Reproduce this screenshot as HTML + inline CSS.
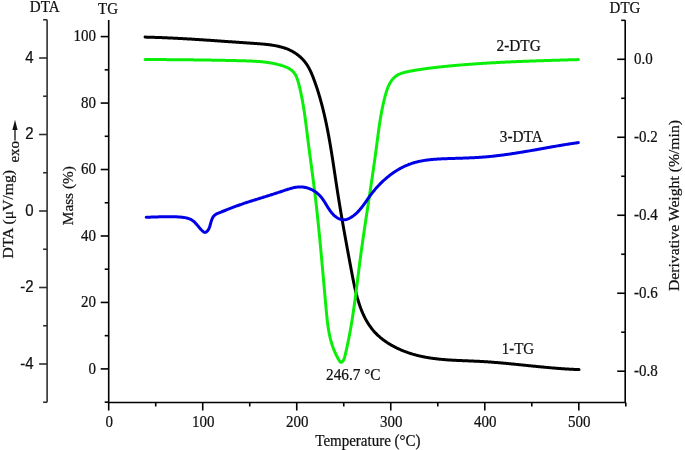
<!DOCTYPE html>
<html><head><meta charset="utf-8"><style>
html,body{margin:0;padding:0;background:#fff;}
body{width:685px;height:450px;overflow:hidden;font-family:"Liberation Serif",serif;}
svg{display:block;}
text{filter:grayscale(1);}
</style></head><body>
<svg width="685" height="450" viewBox="0 0 685 450">
<rect width="685" height="450" fill="#fff"/>
<g stroke="#000" stroke-width="1.60" fill="none" stroke-linecap="butt">
<path stroke="#2e2e2e" stroke-linecap="square" d="M47.10,20.55 V401.45"/>
<path d="M108.70,19.98 V402.50"/>
<path d="M625.20,20.31 V402.50"/>
<path d="M108.70,402.50 H625.81"/>
<path stroke="#2e2e2e" d="M43.10,402.25 H47.10"/>
<path stroke="#2e2e2e" d="M39.10,364.00 H47.10"/>
<path stroke="#2e2e2e" d="M43.10,325.75 H47.10"/>
<path stroke="#2e2e2e" d="M39.10,287.50 H47.10"/>
<path stroke="#2e2e2e" d="M43.10,249.25 H47.10"/>
<path stroke="#2e2e2e" d="M39.10,211.00 H47.10"/>
<path stroke="#2e2e2e" d="M43.10,172.75 H47.10"/>
<path stroke="#2e2e2e" d="M39.10,134.50 H47.10"/>
<path stroke="#2e2e2e" d="M43.10,96.25 H47.10"/>
<path stroke="#2e2e2e" d="M39.10,58.00 H47.10"/>
<path stroke="#2e2e2e" d="M43.10,19.75 H47.10"/>
<path d="M104.70,402.13 H108.70"/>
<path d="M100.70,368.90 H108.70"/>
<path d="M104.70,335.67 H108.70"/>
<path d="M100.70,302.44 H108.70"/>
<path d="M104.70,269.21 H108.70"/>
<path d="M100.70,235.98 H108.70"/>
<path d="M104.70,202.75 H108.70"/>
<path d="M100.70,169.52 H108.70"/>
<path d="M104.70,136.29 H108.70"/>
<path d="M100.70,103.06 H108.70"/>
<path d="M104.70,69.83 H108.70"/>
<path d="M100.70,36.60 H108.70"/>
<path d="M621.20,20.31 H625.20"/>
<path d="M617.20,59.30 H625.20"/>
<path d="M621.20,98.29 H625.20"/>
<path d="M617.20,137.28 H625.20"/>
<path d="M621.20,176.27 H625.20"/>
<path d="M617.20,215.26 H625.20"/>
<path d="M621.20,254.25 H625.20"/>
<path d="M617.20,293.24 H625.20"/>
<path d="M621.20,332.23 H625.20"/>
<path d="M617.20,371.22 H625.20"/>
<path d="M108.70,402.50 V410.50"/>
<path d="M155.71,402.50 V406.50"/>
<path d="M202.72,402.50 V410.50"/>
<path d="M249.73,402.50 V406.50"/>
<path d="M296.74,402.50 V410.50"/>
<path d="M343.75,402.50 V406.50"/>
<path d="M390.76,402.50 V410.50"/>
<path d="M437.77,402.50 V406.50"/>
<path d="M484.78,402.50 V410.50"/>
<path d="M531.79,402.50 V406.50"/>
<path d="M578.80,402.50 V410.50"/>
<path d="M625.81,402.50 V406.50"/>
</g>
<g fill="none" stroke-width="3" stroke-linecap="round" stroke-linejoin="round">
<path stroke="#000" d="M145.10,37.10 L145.82,37.12 L146.55,37.14 L147.28,37.15 L148.00,37.17 L148.73,37.19 L149.45,37.21 L150.17,37.23 L150.89,37.25 L151.61,37.27 L152.33,37.30 L153.05,37.32 L153.76,37.34 L154.48,37.36 L155.19,37.39 L155.91,37.41 L156.62,37.43 L157.33,37.46 L158.04,37.48 L158.75,37.51 L159.46,37.54 L160.17,37.56 L160.87,37.59 L161.58,37.62 L162.28,37.64 L162.99,37.67 L163.69,37.70 L164.40,37.73 L165.10,37.76 L165.80,37.79 L166.50,37.82 L167.20,37.85 L167.90,37.88 L168.60,37.91 L169.29,37.94 L169.99,37.97 L170.69,38.01 L171.38,38.04 L172.08,38.07 L172.77,38.10 L173.47,38.14 L174.16,38.17 L174.85,38.21 L175.54,38.24 L176.24,38.28 L176.93,38.31 L177.62,38.35 L178.31,38.38 L179.00,38.42 L179.69,38.46 L180.38,38.49 L181.06,38.53 L181.75,38.57 L182.44,38.60 L183.13,38.64 L183.81,38.68 L184.50,38.72 L185.19,38.76 L185.87,38.80 L186.56,38.84 L187.24,38.88 L187.93,38.92 L188.61,38.96 L189.30,39.00 L189.98,39.04 L190.66,39.08 L191.35,39.12 L192.03,39.16 L192.72,39.21 L193.40,39.25 L194.08,39.29 L194.76,39.33 L195.45,39.38 L196.13,39.42 L196.81,39.46 L197.50,39.51 L198.18,39.55 L198.86,39.59 L199.54,39.64 L200.23,39.68 L200.91,39.73 L201.59,39.77 L202.27,39.82 L202.96,39.86 L203.64,39.91 L204.32,39.95 L205.00,40.00 L205.69,40.04 L206.37,40.09 L207.05,40.13 L207.74,40.18 L208.42,40.23 L209.11,40.27 L209.79,40.32 L210.47,40.37 L211.16,40.41 L211.84,40.46 L212.53,40.51 L213.21,40.56 L213.90,40.60 L214.59,40.65 L215.27,40.70 L215.96,40.75 L216.65,40.80 L217.33,40.84 L218.02,40.89 L218.71,40.94 L219.40,40.99 L220.09,41.04 L220.78,41.09 L221.47,41.13 L222.16,41.18 L222.85,41.23 L223.54,41.28 L224.23,41.33 L224.92,41.38 L225.62,41.43 L226.31,41.48 L227.01,41.53 L227.70,41.58 L228.40,41.63 L229.09,41.67 L229.79,41.72 L230.49,41.77 L231.18,41.82 L231.88,41.87 L232.58,41.92 L233.28,41.97 L233.98,42.02 L234.69,42.07 L235.39,42.12 L236.09,42.17 L236.80,42.22 L237.50,42.27 L238.21,42.32 L238.91,42.37 L239.62,42.42 L240.33,42.47 L241.04,42.52 L241.75,42.57 L242.46,42.62 L243.17,42.67 L243.89,42.72 L244.60,42.76 L245.32,42.81 L246.03,42.86 L246.75,42.91 L247.47,42.96 L248.19,43.01 L248.91,43.06 L249.63,43.11 L250.35,43.16 L251.07,43.21 L251.80,43.26 L252.52,43.30 L253.25,43.35 L253.98,43.40 L254.71,43.45 L255.44,43.50 L256.17,43.55 L256.90,43.60 L257.63,43.65 L258.36,43.71 L259.09,43.76 L259.82,43.82 L260.55,43.88 L261.29,43.94 L262.02,44.00 L262.75,44.06 L263.48,44.13 L264.21,44.20 L264.93,44.27 L265.66,44.34 L266.39,44.42 L267.11,44.50 L267.84,44.58 L268.56,44.67 L269.28,44.76 L270.00,44.85 L270.71,44.95 L271.43,45.05 L272.14,45.16 L272.85,45.27 L273.56,45.39 L274.27,45.51 L274.97,45.63 L275.67,45.77 L276.37,45.90 L277.07,46.04 L277.76,46.19 L278.45,46.34 L279.14,46.50 L279.82,46.67 L280.50,46.84 L281.18,47.02 L281.85,47.20 L282.52,47.39 L283.18,47.59 L283.84,47.80 L284.50,48.01 L285.15,48.23 L285.80,48.46 L286.44,48.70 L287.08,48.94 L287.71,49.19 L288.34,49.45 L288.96,49.72 L289.58,50.00 L290.20,50.28 L290.80,50.58 L291.41,50.88 L292.00,51.20 L292.59,51.52 L293.18,51.85 L293.76,52.19 L294.33,52.54 L294.90,52.89 L295.46,53.26 L296.01,53.63 L296.56,54.02 L297.10,54.41 L297.64,54.81 L298.17,55.22 L298.69,55.63 L299.20,56.06 L299.71,56.49 L300.21,56.93 L300.70,57.38 L301.19,57.84 L301.67,58.30 L302.14,58.78 L302.60,59.26 L303.06,59.75 L303.51,60.24 L303.95,60.75 L304.38,61.26 L304.80,61.78 L305.22,62.30 L305.62,62.84 L306.02,63.38 L306.41,63.93 L306.80,64.49 L307.17,65.05 L307.53,65.62 L307.89,66.20 L308.24,66.79 L308.57,67.38 L308.91,67.97 L309.23,68.58 L309.55,69.18 L309.86,69.80 L310.16,70.42 L310.46,71.04 L310.76,71.67 L311.04,72.30 L311.32,72.93 L311.60,73.57 L311.87,74.22 L312.14,74.86 L312.40,75.51 L312.66,76.16 L312.92,76.81 L313.17,77.47 L313.42,78.12 L313.67,78.78 L313.91,79.44 L314.16,80.10 L314.40,80.76 L314.64,81.42 L314.87,82.08 L315.11,82.74 L315.34,83.40 L315.57,84.07 L315.80,84.73 L316.03,85.39 L316.25,86.06 L316.48,86.72 L316.70,87.39 L316.92,88.06 L317.14,88.72 L317.36,89.39 L317.57,90.06 L317.78,90.73 L317.99,91.40 L318.20,92.07 L318.41,92.74 L318.62,93.41 L318.82,94.08 L319.02,94.75 L319.23,95.43 L319.43,96.10 L319.62,96.77 L319.82,97.45 L320.01,98.12 L320.21,98.80 L320.40,99.47 L320.59,100.15 L320.78,100.82 L320.96,101.50 L321.15,102.18 L321.33,102.86 L321.51,103.53 L321.70,104.21 L321.87,104.89 L322.05,105.57 L322.23,106.25 L322.40,106.93 L322.58,107.61 L322.75,108.29 L322.92,108.98 L323.09,109.66 L323.26,110.34 L323.43,111.02 L323.59,111.71 L323.75,112.39 L323.92,113.07 L324.08,113.76 L324.24,114.44 L324.40,115.13 L324.56,115.81 L324.71,116.50 L324.87,117.18 L325.02,117.87 L325.18,118.56 L325.33,119.24 L325.48,119.93 L325.63,120.62 L325.78,121.30 L325.92,121.99 L326.07,122.68 L326.22,123.37 L326.36,124.06 L326.50,124.75 L326.64,125.44 L326.79,126.13 L326.93,126.82 L327.06,127.51 L327.20,128.20 L327.34,128.89 L327.48,129.58 L327.61,130.27 L327.74,130.96 L327.88,131.65 L328.01,132.34 L328.14,133.03 L328.27,133.73 L328.40,134.42 L328.53,135.11 L328.66,135.80 L328.79,136.49 L328.91,137.19 L329.04,137.88 L329.16,138.57 L329.29,139.27 L329.41,139.96 L329.53,140.65 L329.65,141.35 L329.78,142.04 L329.90,142.73 L330.02,143.43 L330.13,144.12 L330.25,144.82 L330.37,145.51 L330.49,146.20 L330.61,146.90 L330.72,147.59 L330.84,148.29 L330.95,148.98 L331.07,149.68 L331.18,150.37 L331.29,151.07 L331.41,151.76 L331.52,152.46 L331.63,153.15 L331.74,153.85 L331.85,154.54 L331.96,155.23 L332.07,155.93 L332.18,156.62 L332.29,157.32 L332.40,158.01 L332.51,158.71 L332.62,159.40 L332.72,160.10 L332.83,160.79 L332.94,161.49 L333.05,162.18 L333.15,162.88 L333.26,163.57 L333.36,164.26 L333.47,164.96 L333.58,165.65 L333.68,166.35 L333.79,167.04 L333.89,167.73 L334.00,168.43 L334.10,169.12 L334.20,169.82 L334.31,170.51 L334.41,171.20 L334.52,171.89 L334.62,172.59 L334.72,173.28 L334.83,173.97 L334.93,174.67 L335.04,175.36 L335.14,176.05 L335.24,176.74 L335.35,177.43 L335.45,178.13 L335.55,178.82 L335.66,179.51 L335.76,180.20 L335.87,180.89 L335.97,181.58 L336.07,182.27 L336.18,182.96 L336.28,183.65 L336.39,184.34 L336.49,185.03 L336.60,185.72 L336.70,186.41 L336.81,187.10 L336.91,187.78 L337.02,188.47 L337.13,189.16 L337.23,189.85 L337.34,190.53 L337.44,191.22 L337.55,191.91 L337.66,192.59 L337.77,193.28 L337.87,193.97 L337.98,194.65 L338.09,195.34 L338.20,196.02 L338.31,196.71 L338.42,197.39 L338.53,198.08 L338.64,198.76 L338.75,199.44 L338.86,200.13 L338.97,200.81 L339.08,201.49 L339.19,202.18 L339.30,202.86 L339.41,203.54 L339.53,204.23 L339.64,204.91 L339.75,205.59 L339.86,206.27 L339.98,206.96 L340.09,207.64 L340.20,208.32 L340.32,209.00 L340.43,209.68 L340.55,210.37 L340.66,211.05 L340.77,211.73 L340.89,212.41 L341.01,213.09 L341.12,213.77 L341.24,214.45 L341.35,215.14 L341.47,215.82 L341.59,216.50 L341.70,217.18 L341.82,217.86 L341.94,218.54 L342.05,219.22 L342.17,219.90 L342.29,220.59 L342.41,221.27 L342.53,221.95 L342.64,222.63 L342.76,223.31 L342.88,223.99 L343.00,224.68 L343.12,225.36 L343.24,226.04 L343.36,226.72 L343.48,227.40 L343.60,228.09 L343.72,228.77 L343.84,229.45 L343.96,230.13 L344.09,230.82 L344.21,231.50 L344.33,232.18 L344.45,232.87 L344.57,233.55 L344.69,234.23 L344.82,234.92 L344.94,235.60 L345.06,236.29 L345.19,236.97 L345.31,237.66 L345.43,238.34 L345.56,239.03 L345.68,239.71 L345.81,240.40 L345.93,241.08 L346.05,241.77 L346.18,242.46 L346.30,243.14 L346.43,243.83 L346.56,244.52 L346.68,245.20 L346.81,245.89 L346.93,246.58 L347.06,247.27 L347.19,247.96 L347.31,248.65 L347.44,249.34 L347.57,250.03 L347.69,250.72 L347.82,251.41 L347.95,252.10 L348.08,252.79 L348.20,253.48 L348.33,254.18 L348.46,254.87 L348.59,255.56 L348.72,256.26 L348.85,256.95 L348.98,257.65 L349.10,258.34 L349.23,259.04 L349.36,259.73 L349.49,260.43 L349.62,261.13 L349.75,261.82 L349.88,262.52 L350.01,263.22 L350.14,263.92 L350.27,264.62 L350.41,265.32 L350.54,266.02 L350.67,266.72 L350.80,267.42 L350.93,268.12 L351.06,268.83 L351.19,269.53 L351.33,270.23 L351.46,270.94 L351.59,271.64 L351.72,272.35 L351.86,273.05 L351.99,273.76 L352.12,274.47 L352.26,275.17 L352.40,275.88 L352.53,276.59 L352.67,277.29 L352.81,278.00 L352.94,278.71 L353.08,279.42 L353.23,280.12 L353.37,280.83 L353.51,281.54 L353.65,282.24 L353.80,282.95 L353.95,283.65 L354.10,284.36 L354.25,285.06 L354.40,285.76 L354.55,286.47 L354.71,287.17 L354.86,287.87 L355.02,288.57 L355.18,289.27 L355.34,289.97 L355.51,290.66 L355.68,291.36 L355.85,292.06 L356.02,292.75 L356.19,293.44 L356.37,294.14 L356.54,294.83 L356.73,295.51 L356.91,296.20 L357.10,296.89 L357.28,297.57 L357.48,298.25 L357.67,298.94 L357.87,299.61 L358.07,300.29 L358.27,300.97 L358.48,301.64 L358.69,302.31 L358.90,302.98 L359.12,303.65 L359.34,304.32 L359.56,304.98 L359.79,305.64 L360.02,306.30 L360.26,306.96 L360.49,307.61 L360.74,308.26 L360.98,308.91 L361.23,309.56 L361.48,310.20 L361.74,310.84 L362.00,311.48 L362.27,312.12 L362.54,312.75 L362.82,313.38 L363.09,314.00 L363.38,314.63 L363.67,315.25 L363.96,315.87 L364.26,316.48 L364.56,317.09 L364.86,317.70 L365.18,318.30 L365.49,318.91 L365.82,319.50 L366.14,320.10 L366.47,320.69 L366.81,321.27 L367.15,321.86 L367.50,322.44 L367.85,323.01 L368.21,323.58 L368.58,324.15 L368.95,324.72 L369.32,325.27 L369.70,325.83 L370.09,326.38 L370.48,326.93 L370.88,327.47 L371.29,328.01 L371.70,328.55 L372.12,329.08 L372.54,329.60 L372.97,330.12 L373.40,330.64 L373.85,331.15 L374.30,331.66 L374.75,332.16 L375.21,332.66 L375.68,333.15 L376.16,333.64 L376.64,334.12 L377.13,334.60 L377.62,335.07 L378.12,335.54 L378.63,336.00 L379.14,336.46 L379.66,336.91 L380.18,337.36 L380.71,337.81 L381.24,338.24 L381.78,338.68 L382.33,339.11 L382.88,339.53 L383.44,339.95 L384.00,340.37 L384.56,340.78 L385.13,341.18 L385.71,341.58 L386.29,341.98 L386.87,342.37 L387.46,342.76 L388.05,343.14 L388.65,343.52 L389.25,343.89 L389.86,344.26 L390.46,344.62 L391.08,344.98 L391.69,345.33 L392.31,345.68 L392.93,346.02 L393.56,346.36 L394.19,346.69 L394.82,347.02 L395.46,347.35 L396.10,347.67 L396.74,347.98 L397.38,348.29 L398.03,348.60 L398.68,348.90 L399.33,349.19 L399.98,349.49 L400.64,349.77 L401.29,350.05 L401.95,350.33 L402.61,350.60 L403.28,350.87 L403.94,351.14 L404.61,351.39 L405.28,351.65 L405.94,351.90 L406.61,352.14 L407.29,352.38 L407.96,352.62 L408.63,352.85 L409.30,353.07 L409.98,353.30 L410.65,353.51 L411.33,353.73 L412.01,353.93 L412.68,354.14 L413.36,354.33 L414.04,354.53 L414.72,354.72 L415.40,354.90 L416.08,355.09 L416.76,355.26 L417.44,355.44 L418.12,355.61 L418.80,355.77 L419.48,355.93 L420.16,356.09 L420.85,356.24 L421.53,356.39 L422.21,356.54 L422.90,356.68 L423.58,356.82 L424.27,356.96 L424.95,357.09 L425.64,357.22 L426.32,357.35 L427.01,357.47 L427.70,357.59 L428.39,357.70 L429.07,357.81 L429.76,357.92 L430.45,358.03 L431.14,358.13 L431.83,358.23 L432.52,358.33 L433.21,358.43 L433.90,358.52 L434.59,358.61 L435.28,358.70 L435.97,358.78 L436.67,358.86 L437.36,358.94 L438.05,359.02 L438.74,359.09 L439.44,359.17 L440.13,359.24 L440.82,359.31 L441.52,359.37 L442.21,359.43 L442.91,359.50 L443.60,359.56 L444.30,359.61 L444.99,359.67 L445.69,359.73 L446.38,359.78 L447.08,359.83 L447.78,359.88 L448.47,359.93 L449.17,359.97 L449.87,360.02 L450.56,360.06 L451.26,360.10 L451.96,360.15 L452.66,360.19 L453.35,360.22 L454.05,360.26 L454.75,360.30 L455.45,360.33 L456.15,360.37 L456.84,360.40 L457.54,360.44 L458.24,360.47 L458.94,360.50 L459.64,360.53 L460.34,360.56 L461.04,360.59 L461.74,360.62 L462.44,360.65 L463.14,360.68 L463.84,360.70 L464.54,360.73 L465.23,360.76 L465.93,360.79 L466.63,360.82 L467.33,360.84 L468.03,360.87 L468.73,360.90 L469.43,360.93 L470.13,360.95 L470.83,360.98 L471.53,361.01 L472.23,361.04 L472.93,361.07 L473.63,361.10 L474.33,361.13 L475.03,361.16 L475.73,361.19 L476.43,361.22 L477.13,361.26 L477.83,361.29 L478.53,361.32 L479.23,361.36 L479.93,361.40 L480.63,361.43 L481.33,361.47 L482.03,361.51 L482.73,361.55 L483.43,361.60 L484.13,361.64 L484.82,361.68 L485.52,361.73 L486.22,361.77 L486.92,361.82 L487.62,361.87 L488.32,361.91 L489.02,361.96 L489.71,362.01 L490.41,362.06 L491.11,362.11 L491.81,362.17 L492.51,362.22 L493.21,362.27 L493.90,362.33 L494.60,362.38 L495.30,362.44 L496.00,362.50 L496.69,362.55 L497.39,362.61 L498.09,362.67 L498.79,362.73 L499.49,362.79 L500.18,362.85 L500.88,362.91 L501.58,362.97 L502.28,363.04 L502.97,363.10 L503.67,363.16 L504.37,363.23 L505.06,363.29 L505.76,363.36 L506.46,363.42 L507.16,363.49 L507.85,363.55 L508.55,363.62 L509.25,363.69 L509.94,363.75 L510.64,363.82 L511.34,363.89 L512.04,363.96 L512.73,364.03 L513.43,364.10 L514.13,364.16 L514.82,364.23 L515.52,364.30 L516.22,364.37 L516.91,364.44 L517.61,364.51 L518.31,364.58 L519.00,364.66 L519.70,364.73 L520.40,364.80 L521.09,364.87 L521.79,364.94 L522.49,365.01 L523.18,365.08 L523.88,365.15 L524.58,365.23 L525.27,365.30 L525.97,365.37 L526.67,365.44 L527.36,365.51 L528.06,365.58 L528.76,365.65 L529.45,365.73 L530.15,365.80 L530.85,365.87 L531.54,365.94 L532.24,366.01 L532.94,366.08 L533.63,366.15 L534.33,366.22 L535.03,366.29 L535.72,366.36 L536.42,366.43 L537.12,366.50 L537.81,366.57 L538.51,366.64 L539.21,366.71 L539.90,366.78 L540.60,366.84 L541.30,366.91 L541.99,366.98 L542.69,367.05 L543.39,367.11 L544.09,367.18 L544.78,367.24 L545.48,367.31 L546.18,367.37 L546.87,367.44 L547.57,367.50 L548.27,367.56 L548.97,367.63 L549.66,367.69 L550.36,367.75 L551.06,367.81 L551.75,367.87 L552.45,367.93 L553.15,367.99 L553.85,368.05 L554.54,368.11 L555.24,368.17 L555.94,368.22 L556.64,368.28 L557.34,368.33 L558.03,368.39 L558.73,368.44 L559.43,368.49 L560.13,368.55 L560.83,368.60 L561.52,368.65 L562.22,368.70 L562.92,368.75 L563.62,368.79 L564.32,368.84 L565.02,368.89 L565.71,368.93 L566.41,368.98 L567.11,369.02 L567.81,369.06 L568.51,369.10 L569.21,369.15 L569.91,369.18 L570.61,369.22 L571.30,369.26 L572.00,369.30 L572.70,369.33 L573.40,369.37 L574.10,369.40 L574.80,369.43 L575.50,369.46 L576.20,369.49 L576.90,369.52 L577.60,369.55 L578.30,369.57 L579.00,369.60"/>
<path stroke="#0aee0a" d="M145.10,59.50 L145.80,59.50 L146.49,59.51 L147.19,59.51 L147.89,59.51 L148.58,59.52 L149.28,59.52 L149.98,59.52 L150.67,59.53 L151.37,59.53 L152.07,59.54 L152.77,59.54 L153.46,59.54 L154.16,59.55 L154.86,59.55 L155.56,59.55 L156.26,59.56 L156.96,59.56 L157.66,59.57 L158.35,59.57 L159.05,59.57 L159.75,59.58 L160.45,59.58 L161.15,59.59 L161.85,59.59 L162.55,59.60 L163.25,59.60 L163.95,59.61 L164.65,59.61 L165.35,59.62 L166.05,59.62 L166.75,59.63 L167.45,59.63 L168.15,59.64 L168.86,59.64 L169.56,59.65 L170.26,59.65 L170.96,59.66 L171.66,59.66 L172.36,59.67 L173.06,59.67 L173.76,59.68 L174.47,59.69 L175.17,59.69 L175.87,59.70 L176.57,59.70 L177.27,59.71 L177.97,59.72 L178.68,59.72 L179.38,59.73 L180.08,59.73 L180.78,59.74 L181.48,59.75 L182.19,59.75 L182.89,59.76 L183.59,59.77 L184.29,59.77 L185.00,59.78 L185.70,59.79 L186.40,59.80 L187.10,59.80 L187.81,59.81 L188.51,59.82 L189.21,59.83 L189.91,59.83 L190.62,59.84 L191.32,59.85 L192.02,59.86 L192.72,59.87 L193.43,59.87 L194.13,59.88 L194.83,59.89 L195.54,59.90 L196.24,59.91 L196.94,59.92 L197.64,59.93 L198.35,59.94 L199.05,59.95 L199.75,59.95 L200.45,59.96 L201.16,59.97 L201.86,59.98 L202.56,59.99 L203.26,60.00 L203.97,60.01 L204.67,60.02 L205.37,60.03 L206.07,60.04 L206.77,60.05 L207.48,60.06 L208.18,60.08 L208.88,60.09 L209.58,60.10 L210.28,60.11 L210.99,60.12 L211.69,60.13 L212.39,60.14 L213.09,60.15 L213.79,60.17 L214.49,60.18 L215.20,60.19 L215.90,60.20 L216.60,60.21 L217.30,60.23 L218.00,60.24 L218.70,60.25 L219.40,60.27 L220.10,60.28 L220.80,60.29 L221.50,60.31 L222.20,60.32 L222.91,60.33 L223.61,60.35 L224.31,60.36 L225.01,60.37 L225.71,60.39 L226.40,60.40 L227.10,60.42 L227.80,60.43 L228.50,60.45 L229.20,60.46 L229.90,60.48 L230.60,60.49 L231.30,60.51 L232.00,60.52 L232.70,60.54 L233.39,60.55 L234.09,60.57 L234.79,60.59 L235.49,60.60 L236.19,60.62 L236.88,60.64 L237.58,60.65 L238.28,60.67 L238.97,60.69 L239.67,60.71 L240.37,60.72 L241.06,60.74 L241.76,60.76 L242.46,60.78 L243.15,60.79 L243.85,60.81 L244.54,60.83 L245.24,60.85 L245.93,60.87 L246.63,60.89 L247.32,60.92 L248.02,60.94 L248.71,60.96 L249.41,60.99 L250.10,61.01 L250.79,61.04 L251.49,61.07 L252.18,61.10 L252.88,61.14 L253.57,61.17 L254.26,61.21 L254.96,61.25 L255.65,61.29 L256.35,61.33 L257.04,61.38 L257.73,61.43 L258.43,61.48 L259.12,61.53 L259.82,61.59 L260.51,61.65 L261.20,61.72 L261.90,61.78 L262.59,61.85 L263.29,61.93 L263.98,62.00 L264.67,62.08 L265.37,62.17 L266.06,62.26 L266.76,62.35 L267.45,62.45 L268.15,62.55 L268.84,62.65 L269.54,62.76 L270.23,62.88 L270.93,63.00 L271.62,63.12 L272.32,63.25 L273.01,63.39 L273.71,63.52 L274.41,63.67 L275.10,63.82 L275.80,63.98 L276.50,64.14 L277.19,64.30 L277.89,64.48 L278.59,64.66 L279.29,64.84 L279.99,65.03 L280.68,65.23 L281.38,65.43 L282.08,65.65 L282.77,65.87 L283.46,66.09 L284.14,66.33 L284.82,66.58 L285.49,66.84 L286.15,67.12 L286.80,67.40 L287.44,67.70 L288.07,68.01 L288.69,68.33 L289.29,68.67 L289.87,69.03 L290.44,69.40 L291.00,69.79 L291.53,70.19 L292.04,70.62 L292.54,71.06 L293.01,71.53 L293.45,72.01 L293.88,72.51 L294.28,73.04 L294.66,73.58 L295.03,74.13 L295.37,74.71 L295.70,75.30 L296.01,75.90 L296.30,76.51 L296.58,77.14 L296.84,77.78 L297.09,78.43 L297.33,79.09 L297.56,79.75 L297.78,80.42 L297.98,81.10 L298.19,81.79 L298.38,82.48 L298.57,83.17 L298.75,83.86 L298.93,84.56 L299.10,85.26 L299.28,85.95 L299.45,86.65 L299.62,87.34 L299.78,88.04 L299.94,88.73 L300.11,89.43 L300.26,90.12 L300.42,90.82 L300.57,91.51 L300.73,92.21 L300.88,92.90 L301.02,93.60 L301.17,94.29 L301.31,94.98 L301.45,95.68 L301.59,96.37 L301.73,97.06 L301.87,97.76 L302.00,98.45 L302.13,99.14 L302.26,99.84 L302.39,100.53 L302.52,101.22 L302.64,101.92 L302.76,102.61 L302.88,103.30 L303.00,103.99 L303.12,104.69 L303.24,105.38 L303.36,106.07 L303.47,106.76 L303.58,107.45 L303.69,108.15 L303.80,108.84 L303.91,109.53 L304.02,110.22 L304.12,110.91 L304.23,111.60 L304.33,112.30 L304.43,112.99 L304.54,113.68 L304.64,114.37 L304.74,115.06 L304.83,115.75 L304.93,116.44 L305.03,117.13 L305.12,117.83 L305.22,118.52 L305.31,119.21 L305.41,119.90 L305.50,120.59 L305.59,121.28 L305.68,121.97 L305.77,122.66 L305.86,123.35 L305.95,124.05 L306.04,124.74 L306.13,125.43 L306.22,126.12 L306.30,126.81 L306.39,127.50 L306.48,128.19 L306.57,128.88 L306.65,129.57 L306.74,130.27 L306.82,130.96 L306.91,131.65 L307.00,132.34 L307.08,133.03 L307.17,133.72 L307.25,134.41 L307.34,135.11 L307.43,135.80 L307.51,136.49 L307.60,137.18 L307.68,137.87 L307.77,138.57 L307.86,139.26 L307.94,139.95 L308.03,140.64 L308.12,141.33 L308.21,142.03 L308.30,142.72 L308.38,143.41 L308.47,144.10 L308.56,144.80 L308.65,145.49 L308.74,146.18 L308.83,146.87 L308.92,147.57 L309.01,148.26 L309.10,148.95 L309.19,149.65 L309.29,150.34 L309.38,151.03 L309.47,151.73 L309.56,152.42 L309.65,153.11 L309.74,153.81 L309.84,154.50 L309.93,155.20 L310.02,155.89 L310.11,156.58 L310.20,157.28 L310.30,157.97 L310.39,158.67 L310.48,159.36 L310.58,160.05 L310.67,160.75 L310.76,161.44 L310.85,162.14 L310.95,162.83 L311.04,163.53 L311.13,164.22 L311.23,164.92 L311.32,165.61 L311.41,166.30 L311.50,167.00 L311.60,167.69 L311.69,168.39 L311.78,169.08 L311.88,169.78 L311.97,170.47 L312.06,171.17 L312.15,171.86 L312.25,172.56 L312.34,173.26 L312.43,173.95 L312.52,174.65 L312.61,175.34 L312.70,176.04 L312.80,176.73 L312.89,177.43 L312.98,178.12 L313.07,178.82 L313.16,179.51 L313.25,180.21 L313.34,180.91 L313.43,181.60 L313.52,182.30 L313.61,182.99 L313.70,183.69 L313.79,184.39 L313.87,185.08 L313.96,185.78 L314.05,186.47 L314.14,187.17 L314.23,187.86 L314.31,188.56 L314.40,189.26 L314.49,189.95 L314.57,190.65 L314.66,191.35 L314.74,192.04 L314.83,192.74 L314.91,193.43 L314.99,194.13 L315.08,194.83 L315.16,195.52 L315.24,196.22 L315.33,196.92 L315.41,197.61 L315.49,198.31 L315.57,199.01 L315.65,199.70 L315.74,200.40 L315.82,201.09 L315.90,201.79 L315.98,202.49 L316.06,203.18 L316.14,203.88 L316.21,204.58 L316.29,205.27 L316.37,205.97 L316.45,206.67 L316.53,207.36 L316.60,208.06 L316.68,208.76 L316.76,209.45 L316.84,210.15 L316.91,210.85 L316.99,211.54 L317.06,212.24 L317.14,212.94 L317.21,213.63 L317.29,214.33 L317.36,215.03 L317.44,215.73 L317.51,216.42 L317.59,217.12 L317.66,217.82 L317.73,218.51 L317.81,219.21 L317.88,219.91 L317.95,220.60 L318.02,221.30 L318.10,222.00 L318.17,222.69 L318.24,223.39 L318.31,224.09 L318.38,224.79 L318.45,225.48 L318.52,226.18 L318.60,226.88 L318.67,227.57 L318.74,228.27 L318.81,228.97 L318.88,229.66 L318.94,230.36 L319.01,231.06 L319.08,231.76 L319.15,232.45 L319.22,233.15 L319.29,233.85 L319.36,234.54 L319.43,235.24 L319.49,235.94 L319.56,236.64 L319.63,237.33 L319.70,238.03 L319.76,238.73 L319.83,239.42 L319.90,240.12 L319.96,240.82 L320.03,241.52 L320.10,242.21 L320.16,242.91 L320.23,243.61 L320.29,244.31 L320.36,245.00 L320.43,245.70 L320.49,246.40 L320.56,247.09 L320.62,247.79 L320.69,248.49 L320.75,249.19 L320.82,249.88 L320.88,250.58 L320.95,251.28 L321.01,251.97 L321.07,252.67 L321.14,253.37 L321.20,254.07 L321.27,254.76 L321.33,255.46 L321.39,256.16 L321.46,256.86 L321.52,257.55 L321.59,258.25 L321.65,258.95 L321.71,259.64 L321.77,260.34 L321.84,261.04 L321.90,261.74 L321.96,262.43 L322.03,263.13 L322.09,263.83 L322.15,264.52 L322.21,265.22 L322.28,265.92 L322.34,266.62 L322.40,267.31 L322.46,268.01 L322.53,268.71 L322.59,269.40 L322.65,270.10 L322.71,270.80 L322.78,271.50 L322.84,272.19 L322.90,272.89 L322.96,273.59 L323.02,274.28 L323.09,274.98 L323.15,275.68 L323.21,276.37 L323.27,277.07 L323.33,277.77 L323.40,278.47 L323.46,279.16 L323.52,279.86 L323.58,280.56 L323.64,281.25 L323.70,281.95 L323.77,282.65 L323.83,283.34 L323.89,284.04 L323.95,284.74 L324.01,285.43 L324.08,286.13 L324.14,286.83 L324.20,287.52 L324.26,288.22 L324.32,288.92 L324.39,289.62 L324.45,290.31 L324.51,291.01 L324.57,291.71 L324.63,292.40 L324.70,293.10 L324.76,293.80 L324.82,294.49 L324.88,295.19 L324.95,295.89 L325.01,296.58 L325.07,297.28 L325.13,297.97 L325.20,298.67 L325.26,299.37 L325.32,300.06 L325.38,300.76 L325.45,301.46 L325.51,302.15 L325.57,302.85 L325.64,303.55 L325.70,304.24 L325.76,304.94 L325.83,305.64 L325.89,306.33 L325.95,307.03 L326.02,307.72 L326.08,308.42 L326.15,309.12 L326.21,309.81 L326.27,310.51 L326.34,311.20 L326.40,311.90 L326.47,312.60 L326.54,313.29 L326.60,313.99 L326.67,314.68 L326.74,315.38 L326.81,316.07 L326.88,316.77 L326.95,317.46 L327.02,318.16 L327.10,318.85 L327.17,319.55 L327.25,320.24 L327.33,320.94 L327.41,321.63 L327.49,322.32 L327.58,323.02 L327.67,323.71 L327.76,324.40 L327.85,325.09 L327.95,325.78 L328.04,326.48 L328.14,327.17 L328.25,327.86 L328.36,328.55 L328.47,329.24 L328.58,329.92 L328.70,330.61 L328.82,331.30 L328.94,331.99 L329.07,332.67 L329.20,333.36 L329.34,334.05 L329.48,334.73 L329.62,335.42 L329.77,336.10 L329.93,336.78 L330.08,337.47 L330.25,338.15 L330.41,338.83 L330.59,339.51 L330.76,340.19 L330.95,340.87 L331.13,341.55 L331.33,342.22 L331.53,342.90 L331.73,343.58 L331.94,344.25 L332.16,344.93 L332.38,345.60 L332.61,346.27 L332.84,346.94 L333.08,347.61 L333.33,348.28 L333.58,348.95 L333.84,349.62 L334.11,350.29 L334.39,350.95 L334.67,351.62 L334.96,352.28 L335.25,352.94 L335.55,353.60 L335.86,354.26 L336.17,354.91 L336.49,355.55 L336.81,356.19 L337.13,356.82 L337.47,357.44 L337.80,358.05 L338.14,358.66 L338.48,359.25 L338.82,359.83 L339.17,360.41 L339.52,360.96 L339.88,361.47 L340.25,361.89 L340.65,362.18 L341.09,362.28 L341.56,362.18 L342.04,361.91 L342.51,361.51 L342.95,361.01 L343.35,360.46 L343.68,359.87 L343.97,359.24 L344.21,358.60 L344.42,357.93 L344.61,357.25 L344.79,356.56 L344.96,355.87 L345.13,355.17 L345.29,354.48 L345.46,353.79 L345.62,353.10 L345.79,352.41 L345.95,351.72 L346.11,351.02 L346.27,350.33 L346.43,349.64 L346.58,348.95 L346.74,348.26 L346.89,347.57 L347.04,346.87 L347.19,346.18 L347.34,345.49 L347.49,344.80 L347.64,344.11 L347.78,343.42 L347.93,342.72 L348.07,342.03 L348.21,341.34 L348.35,340.65 L348.49,339.96 L348.63,339.26 L348.77,338.57 L348.91,337.88 L349.04,337.19 L349.17,336.50 L349.31,335.81 L349.44,335.11 L349.57,334.42 L349.70,333.73 L349.83,333.04 L349.96,332.35 L350.08,331.65 L350.21,330.96 L350.33,330.27 L350.46,329.58 L350.58,328.89 L350.70,328.19 L350.82,327.50 L350.94,326.81 L351.06,326.12 L351.18,325.43 L351.29,324.73 L351.41,324.04 L351.53,323.35 L351.64,322.66 L351.75,321.97 L351.87,321.27 L351.98,320.58 L352.09,319.89 L352.20,319.20 L352.31,318.51 L352.42,317.81 L352.53,317.12 L352.63,316.43 L352.74,315.74 L352.85,315.05 L352.95,314.35 L353.05,313.66 L353.16,312.97 L353.26,312.28 L353.36,311.58 L353.47,310.89 L353.57,310.20 L353.67,309.51 L353.77,308.82 L353.87,308.12 L353.97,307.43 L354.07,306.74 L354.16,306.05 L354.26,305.35 L354.36,304.66 L354.45,303.97 L354.55,303.28 L354.64,302.58 L354.74,301.89 L354.83,301.20 L354.93,300.51 L355.02,299.82 L355.11,299.12 L355.21,298.43 L355.30,297.74 L355.39,297.05 L355.48,296.35 L355.57,295.66 L355.67,294.97 L355.76,294.28 L355.85,293.58 L355.94,292.89 L356.03,292.20 L356.12,291.50 L356.20,290.81 L356.29,290.12 L356.38,289.43 L356.47,288.73 L356.56,288.04 L356.65,287.35 L356.74,286.66 L356.82,285.96 L356.91,285.27 L357.00,284.58 L357.09,283.88 L357.17,283.19 L357.26,282.50 L357.35,281.81 L357.43,281.11 L357.52,280.42 L357.61,279.73 L357.69,279.03 L357.78,278.34 L357.87,277.65 L357.96,276.96 L358.04,276.26 L358.13,275.57 L358.22,274.88 L358.30,274.18 L358.39,273.49 L358.48,272.80 L358.56,272.10 L358.65,271.41 L358.74,270.72 L358.83,270.02 L358.92,269.33 L359.00,268.64 L359.09,267.94 L359.18,267.25 L359.27,266.56 L359.36,265.86 L359.45,265.17 L359.54,264.48 L359.62,263.78 L359.71,263.09 L359.80,262.40 L359.89,261.70 L359.99,261.01 L360.08,260.32 L360.17,259.62 L360.26,258.93 L360.35,258.24 L360.44,257.54 L360.54,256.85 L360.63,256.16 L360.72,255.46 L360.82,254.77 L360.91,254.07 L361.00,253.38 L361.10,252.69 L361.19,251.99 L361.29,251.30 L361.38,250.61 L361.48,249.91 L361.57,249.22 L361.67,248.52 L361.77,247.83 L361.86,247.14 L361.96,246.44 L362.06,245.75 L362.16,245.05 L362.25,244.36 L362.35,243.67 L362.45,242.97 L362.55,242.28 L362.65,241.58 L362.75,240.89 L362.84,240.20 L362.94,239.50 L363.04,238.81 L363.14,238.11 L363.24,237.42 L363.34,236.73 L363.44,236.03 L363.54,235.34 L363.64,234.64 L363.75,233.95 L363.85,233.26 L363.95,232.56 L364.05,231.87 L364.15,231.17 L364.25,230.48 L364.35,229.79 L364.46,229.09 L364.56,228.40 L364.66,227.70 L364.76,227.01 L364.87,226.31 L364.97,225.62 L365.07,224.93 L365.17,224.23 L365.28,223.54 L365.38,222.84 L365.48,222.15 L365.59,221.46 L365.69,220.76 L365.80,220.07 L365.90,219.37 L366.00,218.68 L366.11,217.99 L366.21,217.29 L366.32,216.60 L366.42,215.90 L366.52,215.21 L366.63,214.52 L366.73,213.82 L366.84,213.13 L366.94,212.43 L367.05,211.74 L367.15,211.05 L367.26,210.35 L367.36,209.66 L367.47,208.96 L367.57,208.27 L367.68,207.58 L367.78,206.88 L367.88,206.19 L367.99,205.49 L368.09,204.80 L368.20,204.11 L368.30,203.41 L368.41,202.72 L368.51,202.03 L368.62,201.33 L368.72,200.64 L368.83,199.94 L368.93,199.25 L369.04,198.56 L369.14,197.86 L369.25,197.17 L369.35,196.48 L369.46,195.78 L369.56,195.09 L369.67,194.39 L369.77,193.70 L369.87,193.01 L369.98,192.31 L370.08,191.62 L370.19,190.93 L370.29,190.23 L370.40,189.54 L370.50,188.85 L370.60,188.15 L370.71,187.46 L370.81,186.77 L370.91,186.07 L371.02,185.38 L371.12,184.69 L371.22,183.99 L371.33,183.30 L371.43,182.61 L371.53,181.92 L371.64,181.22 L371.74,180.53 L371.84,179.84 L371.94,179.14 L372.05,178.45 L372.15,177.76 L372.25,177.06 L372.35,176.37 L372.45,175.68 L372.55,174.99 L372.65,174.29 L372.76,173.60 L372.86,172.91 L372.96,172.22 L373.06,171.52 L373.16,170.83 L373.26,170.14 L373.36,169.45 L373.46,168.75 L373.56,168.06 L373.66,167.37 L373.75,166.68 L373.85,165.98 L373.95,165.29 L374.05,164.60 L374.15,163.91 L374.25,163.22 L374.34,162.52 L374.44,161.83 L374.54,161.14 L374.63,160.45 L374.73,159.76 L374.83,159.07 L374.92,158.37 L375.02,157.68 L375.11,156.99 L375.21,156.30 L375.30,155.61 L375.40,154.92 L375.49,154.22 L375.59,153.53 L375.68,152.84 L375.77,152.15 L375.87,151.46 L375.96,150.77 L376.05,150.08 L376.14,149.39 L376.24,148.70 L376.33,148.00 L376.42,147.31 L376.51,146.62 L376.60,145.93 L376.69,145.24 L376.78,144.55 L376.87,143.86 L376.96,143.17 L377.05,142.48 L377.14,141.79 L377.23,141.10 L377.32,140.41 L377.41,139.72 L377.50,139.03 L377.59,138.34 L377.68,137.65 L377.77,136.96 L377.86,136.27 L377.95,135.58 L378.04,134.89 L378.13,134.20 L378.22,133.50 L378.32,132.81 L378.41,132.12 L378.50,131.43 L378.60,130.74 L378.69,130.05 L378.79,129.36 L378.89,128.67 L378.98,127.98 L379.08,127.29 L379.18,126.60 L379.28,125.91 L379.38,125.22 L379.49,124.53 L379.59,123.84 L379.69,123.15 L379.80,122.46 L379.91,121.77 L380.02,121.07 L380.12,120.38 L380.24,119.69 L380.35,119.00 L380.46,118.31 L380.58,117.62 L380.69,116.93 L380.81,116.23 L380.93,115.54 L381.06,114.85 L381.18,114.16 L381.30,113.47 L381.43,112.78 L381.56,112.08 L381.69,111.39 L381.82,110.70 L381.96,110.01 L382.10,109.31 L382.23,108.62 L382.38,107.93 L382.52,107.23 L382.66,106.54 L382.81,105.85 L382.96,105.15 L383.11,104.46 L383.27,103.77 L383.43,103.07 L383.59,102.38 L383.75,101.68 L383.91,100.99 L384.08,100.30 L384.25,99.60 L384.42,98.91 L384.60,98.21 L384.77,97.52 L384.96,96.82 L385.14,96.12 L385.33,95.43 L385.52,94.73 L385.71,94.04 L385.91,93.35 L386.12,92.66 L386.33,91.98 L386.54,91.29 L386.76,90.62 L386.99,89.94 L387.23,89.27 L387.47,88.61 L387.72,87.95 L387.98,87.30 L388.24,86.66 L388.52,86.02 L388.80,85.40 L389.10,84.78 L389.40,84.17 L389.72,83.57 L390.05,82.98 L390.38,82.40 L390.73,81.83 L391.10,81.28 L391.47,80.73 L391.86,80.20 L392.26,79.68 L392.67,79.18 L393.10,78.69 L393.55,78.21 L394.00,77.75 L394.48,77.31 L394.97,76.88 L395.47,76.47 L396.00,76.08 L396.54,75.70 L397.09,75.35 L397.67,75.01 L398.26,74.69 L398.86,74.38 L399.48,74.10 L400.12,73.82 L400.76,73.56 L401.42,73.32 L402.09,73.09 L402.77,72.87 L403.46,72.66 L404.15,72.46 L404.86,72.28 L405.57,72.10 L406.28,71.93 L407.00,71.77 L407.73,71.61 L408.45,71.46 L409.18,71.32 L409.91,71.18 L410.64,71.05 L411.37,70.92 L412.10,70.79 L412.83,70.66 L413.55,70.54 L414.27,70.42 L414.99,70.30 L415.71,70.18 L416.43,70.06 L417.14,69.95 L417.86,69.83 L418.57,69.72 L419.28,69.61 L419.98,69.50 L420.69,69.40 L421.39,69.29 L422.10,69.19 L422.80,69.08 L423.50,68.98 L424.20,68.88 L424.89,68.79 L425.59,68.69 L426.29,68.60 L426.98,68.50 L427.67,68.41 L428.37,68.32 L429.06,68.23 L429.75,68.14 L430.44,68.05 L431.13,67.97 L431.81,67.88 L432.50,67.80 L433.19,67.72 L433.88,67.64 L434.56,67.56 L435.25,67.48 L435.93,67.40 L436.62,67.32 L437.30,67.24 L437.98,67.17 L438.67,67.09 L439.35,67.02 L440.04,66.94 L440.72,66.87 L441.40,66.80 L442.09,66.73 L442.77,66.66 L443.46,66.59 L444.14,66.52 L444.83,66.45 L445.51,66.38 L446.20,66.31 L446.88,66.24 L447.57,66.17 L448.26,66.11 L448.94,66.04 L449.63,65.98 L450.32,65.91 L451.01,65.85 L451.69,65.78 L452.38,65.72 L453.07,65.66 L453.76,65.59 L454.45,65.53 L455.14,65.47 L455.83,65.41 L456.52,65.35 L457.21,65.29 L457.90,65.23 L458.60,65.17 L459.29,65.11 L459.98,65.05 L460.67,64.99 L461.36,64.94 L462.06,64.88 L462.75,64.82 L463.44,64.77 L464.14,64.71 L464.83,64.66 L465.53,64.60 L466.22,64.55 L466.92,64.49 L467.61,64.44 L468.31,64.39 L469.00,64.34 L469.70,64.28 L470.39,64.23 L471.09,64.18 L471.79,64.13 L472.49,64.08 L473.18,64.03 L473.88,63.98 L474.58,63.93 L475.27,63.88 L475.97,63.83 L476.67,63.78 L477.37,63.74 L478.07,63.69 L478.77,63.64 L479.47,63.60 L480.17,63.55 L480.86,63.51 L481.56,63.46 L482.26,63.41 L482.96,63.37 L483.66,63.33 L484.36,63.28 L485.07,63.24 L485.77,63.20 L486.47,63.15 L487.17,63.11 L487.87,63.07 L488.57,63.03 L489.27,62.99 L489.97,62.94 L490.67,62.90 L491.38,62.86 L492.08,62.82 L492.78,62.78 L493.48,62.74 L494.19,62.71 L494.89,62.67 L495.59,62.63 L496.29,62.59 L497.00,62.55 L497.70,62.52 L498.40,62.48 L499.10,62.44 L499.81,62.40 L500.51,62.37 L501.21,62.33 L501.92,62.30 L502.62,62.26 L503.33,62.23 L504.03,62.19 L504.73,62.16 L505.44,62.12 L506.14,62.09 L506.84,62.06 L507.55,62.02 L508.25,61.99 L508.96,61.96 L509.66,61.92 L510.36,61.89 L511.07,61.86 L511.77,61.83 L512.48,61.80 L513.18,61.77 L513.89,61.74 L514.59,61.70 L515.29,61.67 L516.00,61.64 L516.70,61.61 L517.41,61.58 L518.11,61.56 L518.82,61.53 L519.52,61.50 L520.23,61.47 L520.93,61.44 L521.63,61.41 L522.34,61.38 L523.04,61.36 L523.75,61.33 L524.45,61.30 L525.16,61.27 L525.86,61.25 L526.56,61.22 L527.27,61.19 L527.97,61.17 L528.68,61.14 L529.38,61.11 L530.08,61.09 L530.79,61.06 L531.49,61.04 L532.19,61.01 L532.90,60.99 L533.60,60.96 L534.30,60.94 L535.01,60.91 L535.71,60.89 L536.41,60.86 L537.12,60.84 L537.82,60.81 L538.52,60.79 L539.23,60.77 L539.93,60.74 L540.63,60.72 L541.33,60.70 L542.04,60.67 L542.74,60.65 L543.44,60.63 L544.14,60.60 L544.84,60.58 L545.55,60.56 L546.25,60.54 L546.95,60.52 L547.65,60.49 L548.35,60.47 L549.05,60.45 L549.75,60.43 L550.45,60.41 L551.15,60.38 L551.85,60.36 L552.55,60.34 L553.25,60.32 L553.95,60.30 L554.65,60.28 L555.35,60.26 L556.05,60.24 L556.75,60.22 L557.45,60.20 L558.15,60.17 L558.84,60.15 L559.54,60.13 L560.24,60.11 L560.94,60.09 L561.64,60.07 L562.33,60.05 L563.03,60.03 L563.73,60.01 L564.42,59.99 L565.12,59.97 L565.82,59.95 L566.51,59.93 L567.21,59.91 L567.90,59.89 L568.60,59.87 L569.29,59.85 L569.99,59.83 L570.68,59.81 L571.37,59.79 L572.07,59.77 L572.76,59.75 L573.45,59.73 L574.15,59.72 L574.84,59.70 L575.53,59.68 L576.22,59.66 L576.92,59.64 L577.61,59.62 L578.30,59.60"/>
<path stroke="#0000e6" d="M146.20,217.20 L146.90,217.19 L147.60,217.19 L148.31,217.18 L149.01,217.16 L149.71,217.15 L150.41,217.13 L151.11,217.12 L151.81,217.10 L152.51,217.08 L153.21,217.06 L153.91,217.03 L154.61,217.01 L155.31,216.99 L156.01,216.96 L156.71,216.94 L157.41,216.91 L158.11,216.89 L158.81,216.87 L159.51,216.84 L160.21,216.82 L160.91,216.80 L161.60,216.77 L162.30,216.75 L163.00,216.73 L163.70,216.71 L164.40,216.70 L165.10,216.68 L165.80,216.67 L166.50,216.66 L167.19,216.65 L167.89,216.64 L168.59,216.64 L169.29,216.64 L169.99,216.64 L170.69,216.64 L171.39,216.65 L172.09,216.66 L172.79,216.67 L173.49,216.69 L174.19,216.71 L174.89,216.74 L175.59,216.77 L176.29,216.80 L176.99,216.84 L177.69,216.89 L178.39,216.93 L179.09,216.99 L179.80,217.05 L180.50,217.11 L181.20,217.18 L181.90,217.26 L182.61,217.34 L183.31,217.42 L184.01,217.52 L184.71,217.63 L185.40,217.75 L186.09,217.89 L186.77,218.04 L187.45,218.21 L188.11,218.40 L188.77,218.61 L189.41,218.84 L190.05,219.10 L190.67,219.38 L191.27,219.69 L191.86,220.04 L192.43,220.41 L192.99,220.82 L193.53,221.25 L194.06,221.71 L194.57,222.19 L195.08,222.69 L195.57,223.20 L196.06,223.74 L196.54,224.28 L197.01,224.83 L197.48,225.39 L197.94,225.95 L198.41,226.51 L198.87,227.07 L199.33,227.63 L199.80,228.18 L200.27,228.72 L200.74,229.24 L201.22,229.75 L201.70,230.25 L202.20,230.72 L202.70,231.17 L203.22,231.59 L203.74,231.97 L204.28,232.25 L204.83,232.40 L205.38,232.36 L205.93,232.17 L206.46,231.85 L206.96,231.45 L207.42,230.99 L207.83,230.49 L208.21,229.94 L208.56,229.35 L208.87,228.72 L209.16,228.07 L209.42,227.39 L209.67,226.69 L209.90,225.97 L210.12,225.24 L210.33,224.50 L210.54,223.76 L210.74,223.03 L210.95,222.30 L211.16,221.57 L211.38,220.86 L211.61,220.17 L211.86,219.49 L212.13,218.83 L212.42,218.20 L212.73,217.59 L213.08,217.01 L213.46,216.47 L213.87,215.96 L214.32,215.49 L214.82,215.06 L215.35,214.66 L215.92,214.30 L216.51,213.96 L217.13,213.65 L217.77,213.36 L218.42,213.08 L219.08,212.81 L219.75,212.55 L220.42,212.29 L221.08,212.03 L221.75,211.77 L222.41,211.52 L223.07,211.26 L223.73,211.00 L224.38,210.74 L225.04,210.48 L225.69,210.23 L226.35,209.97 L227.00,209.71 L227.65,209.46 L228.30,209.20 L228.95,208.95 L229.60,208.69 L230.25,208.44 L230.90,208.19 L231.55,207.94 L232.20,207.69 L232.85,207.44 L233.50,207.19 L234.15,206.94 L234.80,206.70 L235.45,206.45 L236.10,206.21 L236.75,205.96 L237.40,205.72 L238.05,205.48 L238.71,205.24 L239.36,205.01 L240.02,204.77 L240.67,204.54 L241.33,204.31 L241.99,204.07 L242.65,203.85 L243.31,203.62 L243.97,203.39 L244.64,203.17 L245.30,202.95 L245.97,202.72 L246.64,202.50 L247.31,202.29 L247.98,202.07 L248.65,201.85 L249.32,201.64 L249.99,201.42 L250.66,201.21 L251.33,201.00 L252.01,200.78 L252.68,200.57 L253.35,200.36 L254.03,200.15 L254.70,199.95 L255.37,199.74 L256.04,199.53 L256.72,199.32 L257.39,199.11 L258.06,198.91 L258.73,198.70 L259.40,198.49 L260.07,198.29 L260.74,198.08 L261.41,197.87 L262.08,197.67 L262.74,197.46 L263.41,197.25 L264.07,197.04 L264.74,196.84 L265.40,196.63 L266.06,196.42 L266.72,196.21 L267.38,196.00 L268.04,195.79 L268.70,195.58 L269.36,195.37 L270.02,195.16 L270.68,194.95 L271.34,194.74 L272.00,194.53 L272.66,194.31 L273.32,194.10 L273.98,193.89 L274.64,193.68 L275.30,193.46 L275.96,193.25 L276.62,193.03 L277.28,192.82 L277.95,192.60 L278.61,192.38 L279.27,192.17 L279.94,191.95 L280.60,191.73 L281.27,191.51 L281.94,191.29 L282.61,191.07 L283.28,190.85 L283.95,190.62 L284.62,190.40 L285.30,190.18 L285.97,189.95 L286.65,189.73 L287.33,189.51 L288.01,189.29 L288.69,189.07 L289.37,188.86 L290.06,188.66 L290.74,188.46 L291.43,188.26 L292.11,188.08 L292.80,187.91 L293.49,187.74 L294.18,187.59 L294.87,187.45 L295.56,187.33 L296.25,187.21 L296.94,187.12 L297.63,187.04 L298.32,186.97 L299.01,186.93 L299.71,186.90 L300.40,186.90 L301.09,186.91 L301.79,186.95 L302.48,187.00 L303.17,187.08 L303.86,187.17 L304.54,187.28 L305.23,187.42 L305.91,187.57 L306.59,187.74 L307.26,187.92 L307.93,188.13 L308.59,188.35 L309.25,188.59 L309.91,188.84 L310.55,189.12 L311.19,189.40 L311.83,189.71 L312.45,190.03 L313.07,190.36 L313.68,190.72 L314.28,191.08 L314.87,191.46 L315.46,191.85 L316.03,192.26 L316.59,192.69 L317.14,193.12 L317.68,193.57 L318.21,194.03 L318.72,194.50 L319.23,194.99 L319.72,195.49 L320.19,196.00 L320.65,196.52 L321.10,197.05 L321.54,197.59 L321.97,198.14 L322.39,198.70 L322.79,199.27 L323.19,199.84 L323.58,200.42 L323.97,201.01 L324.35,201.60 L324.73,202.19 L325.10,202.79 L325.47,203.39 L325.83,203.99 L326.20,204.60 L326.56,205.20 L326.93,205.80 L327.29,206.41 L327.66,207.01 L328.04,207.61 L328.41,208.20 L328.79,208.79 L329.18,209.38 L329.58,209.96 L329.98,210.53 L330.39,211.10 L330.81,211.66 L331.24,212.22 L331.68,212.76 L332.13,213.29 L332.60,213.82 L333.08,214.33 L333.58,214.83 L334.09,215.32 L334.61,215.79 L335.16,216.25 L335.71,216.69 L336.29,217.12 L336.87,217.52 L337.47,217.89 L338.08,218.24 L338.70,218.56 L339.32,218.85 L339.96,219.11 L340.61,219.33 L341.26,219.52 L341.92,219.67 L342.58,219.77 L343.25,219.84 L343.92,219.85 L344.59,219.82 L345.27,219.74 L345.94,219.61 L346.62,219.43 L347.29,219.22 L347.96,218.96 L348.62,218.68 L349.28,218.36 L349.93,218.02 L350.57,217.65 L351.20,217.27 L351.82,216.87 L352.42,216.46 L353.02,216.04 L353.60,215.61 L354.16,215.17 L354.71,214.73 L355.26,214.27 L355.79,213.81 L356.31,213.34 L356.82,212.87 L357.32,212.38 L357.81,211.89 L358.29,211.40 L358.76,210.89 L359.22,210.39 L359.68,209.87 L360.13,209.35 L360.57,208.83 L361.01,208.30 L361.44,207.77 L361.86,207.23 L362.28,206.69 L362.69,206.14 L363.10,205.59 L363.51,205.04 L363.91,204.48 L364.31,203.93 L364.71,203.37 L365.11,202.81 L365.50,202.24 L365.90,201.68 L366.29,201.11 L366.69,200.54 L367.08,199.98 L367.47,199.41 L367.87,198.84 L368.27,198.27 L368.67,197.71 L369.07,197.14 L369.47,196.57 L369.88,196.01 L370.29,195.45 L370.71,194.89 L371.13,194.33 L371.56,193.77 L371.99,193.22 L372.42,192.67 L372.86,192.12 L373.30,191.57 L373.74,191.02 L374.19,190.48 L374.64,189.94 L375.10,189.40 L375.56,188.86 L376.03,188.33 L376.50,187.80 L376.97,187.27 L377.44,186.75 L377.92,186.23 L378.41,185.71 L378.89,185.19 L379.38,184.68 L379.88,184.17 L380.38,183.67 L380.88,183.17 L381.38,182.67 L381.89,182.17 L382.40,181.68 L382.92,181.19 L383.44,180.71 L383.96,180.23 L384.49,179.75 L385.02,179.28 L385.55,178.81 L386.09,178.35 L386.63,177.89 L387.17,177.43 L387.72,176.98 L388.26,176.54 L388.82,176.09 L389.37,175.66 L389.93,175.22 L390.49,174.80 L391.06,174.37 L391.63,173.95 L392.20,173.54 L392.77,173.13 L393.35,172.73 L393.93,172.33 L394.51,171.94 L395.10,171.55 L395.69,171.17 L396.28,170.79 L396.87,170.42 L397.47,170.06 L398.07,169.70 L398.67,169.34 L399.28,168.99 L399.88,168.65 L400.50,168.32 L401.11,167.98 L401.73,167.66 L402.34,167.34 L402.97,167.03 L403.59,166.73 L404.22,166.43 L404.84,166.13 L405.48,165.85 L406.11,165.57 L406.75,165.30 L407.39,165.03 L408.03,164.77 L408.67,164.52 L409.32,164.27 L409.96,164.04 L410.61,163.81 L411.27,163.58 L411.92,163.36 L412.58,163.15 L413.24,162.95 L413.90,162.75 L414.56,162.56 L415.22,162.38 L415.89,162.20 L416.56,162.03 L417.23,161.86 L417.90,161.70 L418.58,161.55 L419.25,161.40 L419.93,161.26 L420.61,161.12 L421.29,160.98 L421.97,160.86 L422.65,160.73 L423.34,160.61 L424.02,160.50 L424.71,160.39 L425.40,160.29 L426.09,160.19 L426.78,160.09 L427.47,160.00 L428.17,159.91 L428.86,159.83 L429.56,159.75 L430.25,159.67 L430.95,159.60 L431.65,159.53 L432.35,159.47 L433.05,159.40 L433.75,159.34 L434.45,159.29 L435.15,159.23 L435.85,159.18 L436.55,159.13 L437.26,159.09 L437.96,159.04 L438.67,159.00 L439.37,158.96 L440.08,158.93 L440.78,158.89 L441.49,158.86 L442.19,158.82 L442.90,158.79 L443.60,158.76 L444.31,158.74 L445.02,158.71 L445.72,158.68 L446.43,158.66 L447.14,158.63 L447.84,158.61 L448.55,158.59 L449.25,158.57 L449.96,158.54 L450.66,158.52 L451.37,158.50 L452.07,158.48 L452.78,158.46 L453.48,158.44 L454.18,158.41 L454.89,158.39 L455.59,158.37 L456.29,158.35 L456.99,158.33 L457.69,158.31 L458.40,158.28 L459.10,158.26 L459.80,158.24 L460.50,158.22 L461.20,158.19 L461.90,158.17 L462.60,158.15 L463.30,158.12 L464.00,158.10 L464.70,158.07 L465.40,158.04 L466.10,158.02 L466.79,157.99 L467.49,157.96 L468.19,157.93 L468.89,157.90 L469.59,157.87 L470.28,157.84 L470.98,157.81 L471.68,157.78 L472.38,157.74 L473.07,157.71 L473.77,157.67 L474.47,157.64 L475.16,157.60 L475.86,157.56 L476.56,157.52 L477.25,157.48 L477.95,157.44 L478.64,157.40 L479.34,157.35 L480.04,157.31 L480.73,157.26 L481.43,157.21 L482.12,157.16 L482.82,157.11 L483.51,157.05 L484.21,157.00 L484.90,156.94 L485.60,156.89 L486.29,156.83 L486.99,156.77 L487.68,156.70 L488.38,156.64 L489.07,156.57 L489.77,156.51 L490.46,156.44 L491.16,156.37 L491.85,156.30 L492.55,156.23 L493.24,156.15 L493.94,156.08 L494.63,156.00 L495.32,155.92 L496.02,155.84 L496.71,155.76 L497.41,155.68 L498.10,155.60 L498.80,155.51 L499.49,155.43 L500.18,155.34 L500.88,155.25 L501.57,155.16 L502.27,155.07 L502.96,154.98 L503.65,154.89 L504.35,154.80 L505.04,154.70 L505.73,154.61 L506.43,154.51 L507.12,154.41 L507.81,154.31 L508.51,154.21 L509.20,154.11 L509.89,154.01 L510.59,153.91 L511.28,153.81 L511.97,153.70 L512.67,153.60 L513.36,153.49 L514.05,153.38 L514.74,153.28 L515.44,153.17 L516.13,153.06 L516.82,152.95 L517.52,152.84 L518.21,152.73 L518.90,152.62 L519.59,152.51 L520.29,152.39 L520.98,152.28 L521.67,152.16 L522.36,152.05 L523.06,151.93 L523.75,151.82 L524.44,151.70 L525.13,151.59 L525.82,151.47 L526.52,151.35 L527.21,151.23 L527.90,151.11 L528.59,150.99 L529.28,150.87 L529.98,150.76 L530.67,150.63 L531.36,150.51 L532.05,150.39 L532.74,150.27 L533.43,150.15 L534.13,150.03 L534.82,149.91 L535.51,149.79 L536.20,149.66 L536.89,149.54 L537.58,149.42 L538.27,149.30 L538.97,149.17 L539.66,149.05 L540.35,148.93 L541.04,148.80 L541.73,148.68 L542.42,148.56 L543.11,148.44 L543.80,148.31 L544.49,148.19 L545.19,148.07 L545.88,147.94 L546.57,147.82 L547.26,147.70 L547.95,147.58 L548.64,147.45 L549.33,147.33 L550.02,147.21 L550.71,147.09 L551.40,146.97 L552.09,146.84 L552.78,146.72 L553.47,146.60 L554.16,146.48 L554.85,146.36 L555.54,146.24 L556.23,146.12 L556.92,146.00 L557.61,145.89 L558.30,145.77 L558.99,145.65 L559.68,145.53 L560.37,145.42 L561.06,145.30 L561.75,145.18 L562.44,145.07 L563.13,144.95 L563.82,144.84 L564.51,144.73 L565.20,144.61 L565.89,144.50 L566.58,144.39 L567.27,144.28 L567.96,144.17 L568.65,144.06 L569.34,143.95 L570.03,143.84 L570.72,143.73 L571.41,143.63 L572.10,143.52 L572.79,143.42 L573.48,143.31 L574.17,143.21 L574.85,143.11 L575.54,143.01 L576.23,142.91 L576.92,142.81 L577.61,142.71 L578.30,142.61"/>
</g>
<g font-family="Liberation Serif, serif" fill="#111" stroke="#111" stroke-width="0.22">
<text transform="translate(33.70,62.70) scale(1,1.060)" font-size="15.00" text-anchor="end" font-family="Liberation Sans, sans-serif">4</text>
<text transform="translate(33.70,139.20) scale(1,1.060)" font-size="15.00" text-anchor="end" font-family="Liberation Sans, sans-serif">2</text>
<text transform="translate(33.70,215.70) scale(1,1.060)" font-size="15.00" text-anchor="end" font-family="Liberation Sans, sans-serif">0</text>
<text transform="translate(33.70,292.20) scale(1,1.060)" font-size="15.00" text-anchor="end" font-family="Liberation Sans, sans-serif">-2</text>
<text transform="translate(33.70,368.70) scale(1,1.060)" font-size="15.00" text-anchor="end" font-family="Liberation Sans, sans-serif">-4</text>
<text transform="translate(96.00,373.70) scale(1,1.060)" font-size="15.00" text-anchor="end">0</text>
<text transform="translate(96.00,307.24) scale(1,1.060)" font-size="15.00" text-anchor="end">20</text>
<text transform="translate(96.00,240.78) scale(1,1.060)" font-size="15.00" text-anchor="end">40</text>
<text transform="translate(96.00,174.32) scale(1,1.060)" font-size="15.00" text-anchor="end">60</text>
<text transform="translate(96.00,107.86) scale(1,1.060)" font-size="15.00" text-anchor="end">80</text>
<text transform="translate(96.00,41.40) scale(1,1.060)" font-size="15.00" text-anchor="end">100</text>
<text transform="translate(634.00,64.10) scale(1,1.060)" font-size="15.00">0.0</text>
<text transform="translate(634.00,142.08) scale(1,1.060)" font-size="15.00">-0.2</text>
<text transform="translate(634.00,220.06) scale(1,1.060)" font-size="15.00">-0.4</text>
<text transform="translate(634.00,298.04) scale(1,1.060)" font-size="15.00">-0.6</text>
<text transform="translate(634.00,376.02) scale(1,1.060)" font-size="15.00">-0.8</text>
<text transform="translate(109.20,426.60) scale(1,1.060)" font-size="15.00" text-anchor="middle">0</text>
<text transform="translate(203.22,426.60) scale(1,1.060)" font-size="15.00" text-anchor="middle">100</text>
<text transform="translate(297.24,426.60) scale(1,1.060)" font-size="15.00" text-anchor="middle">200</text>
<text transform="translate(391.26,426.60) scale(1,1.060)" font-size="15.00" text-anchor="middle">300</text>
<text transform="translate(485.28,426.60) scale(1,1.060)" font-size="15.00" text-anchor="middle">400</text>
<text transform="translate(579.30,426.60) scale(1,1.060)" font-size="15.00" text-anchor="middle">500</text>
<text transform="translate(29.80,12.00) scale(1,1.060)" font-size="15.10">DTA</text>
<text transform="translate(98.00,13.60) scale(1,1.060)" font-size="15.00">TG</text>
<text transform="translate(609.60,12.50) scale(1,1.060)" font-size="15.00">DTG</text>
<text transform="translate(315.30,445.80) scale(1,1.060)" font-size="15.00">Temperature (°C)</text>
<text transform="translate(12.90,258.60) scale(1,1.060) rotate(-90)" font-size="14.81">DTA (μV/mg)</text>
<text transform="translate(18.60,162.60) scale(1,1.060) rotate(-90)" font-size="14.15">exo</text>
<text transform="translate(72.80,225.20) scale(1,1.060) rotate(-90)" font-size="14.43">Mass (%)</text>
<text transform="translate(679.00,291.00) scale(1,1.060) rotate(-90)" font-size="14.81">Derivative Weight (%/min)</text>
<text transform="translate(496.60,51.20) scale(1,1.060)" font-size="15.30">2-DTG</text>
<text transform="translate(499.80,141.80) scale(1,1.060)" font-size="15.30">3-DTA</text>
<text transform="translate(501.70,353.50) scale(1,1.060)" font-size="15.00">1-TG</text>
<text transform="translate(326.00,379.60) scale(1,1.060)" font-size="15.30">246.7 °C</text>
</g>
<path d="M15,140.5 V128" stroke="#111" stroke-width="1.3" fill="none"/>
<path d="M12.4,130 L15,119.8 L17.6,130 Z" fill="#111"/>
</svg>
</body></html>
